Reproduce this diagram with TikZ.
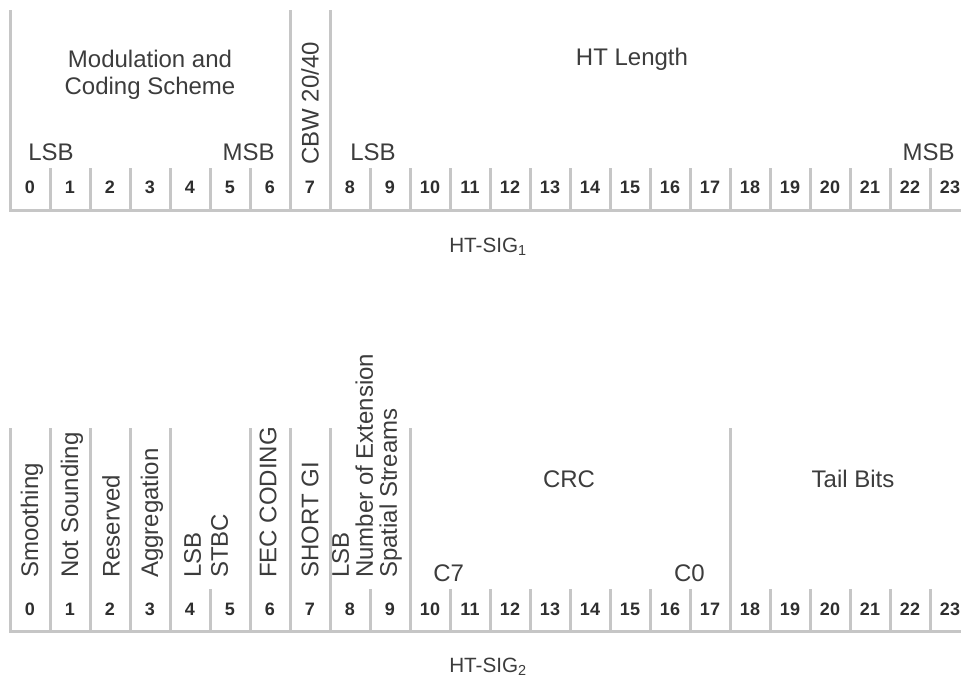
\documentclass[tikz,border=0pt]{standalone}
\usepackage{fontspec}
\setmainfont{Liberation Sans}
\usepackage{tikz}
\usetikzlibrary{positioning}

\definecolor{rahmen}{HTML}{C6C6C6}
\definecolor{schrift}{HTML}{3C3C3C}
\definecolor{ziffer}{HTML}{2E2E2E}

\begin{document}
\begin{tikzpicture}[x=0.75pt, y=-0.75pt,
    bitline/.style={rahmen, line width=2.25pt},
    bitnum/.style={ziffer, font=\fontsize{13.5}{16}\selectfont\bfseries, inner sep=0pt, anchor=base},
    fieldtxt/.style={schrift, font=\fontsize{18}{20.25}\selectfont, inner sep=0pt},
    vfield/.style={fieldtxt, rotate=90, anchor=west, align=left},
    sigtxt/.style={schrift, font=\fontsize{15.5}{17}\selectfont, inner sep=0pt, anchor=base west}]
        % 定義
        \def\W{40}     % 1ビットの幅
        \def\Ya{210}   % HT-SIG1 の下線
        \def\Yb{631}   % HT-SIG2 の下線
        \useasboundingbox (0,0) rectangle (961,682);

        % ===== HT-SIG1 =====
        % 枠線
        \draw[bitline] (10,\Ya-200) -- (10,\Ya) -- (961,\Ya);
        \foreach \x in {290,330} \draw[bitline] (\x,\Ya-200) -- (\x,\Ya);
        \foreach \k in {1,...,6,9,10,...,23} \draw[bitline] (10+\k*\W,\Ya-42) -- (10+\k*\W,\Ya);
        % ビット番号
        \foreach \i in {0,...,23}
            \node[bitnum] (a\i) at (30+\i*\W,\Ya-17) {\i};
        % フィールド名
        \node[fieldtxt, anchor=north, align=center] (mcs) at (150,49.5) {Modulation and\\Coding Scheme};
        \node[fieldtxt, anchor=base west] (mcslsb) at (28,160) {LSB};
        \node[fieldtxt, anchor=base east] (mcsmsb) at (275,160) {MSB};
        \node[vfield] (cbw) at (310,165) {CBW 20/40};
        \node[fieldtxt, anchor=base] (htlen) at (632,65) {HT Length};
        \node[fieldtxt, anchor=base west] (lenlsb) at (350,160) {LSB};
        \node[fieldtxt, anchor=base east] (lenmsb) at (955,160) {MSB};
        \node[sigtxt] (sigone) at (449,252) {HT-SIG\textsubscript{1}};

        % ===== HT-SIG2 =====
        % 枠線
        \draw[bitline] (10,\Yb-203) -- (10,\Yb) -- (961,\Yb);
        \foreach \x in {50,90,130,170,250,290,330,410,730} \draw[bitline] (\x,\Yb-203) -- (\x,\Yb);
        \foreach \k in {5,9,11,12,...,17,19,20,...,23} \draw[bitline] (10+\k*\W,\Yb-42) -- (10+\k*\W,\Yb);
        % ビット番号
        \foreach \i in {0,...,23}
            \node[bitnum] (b\i) at (30+\i*\W,\Yb-16) {\i};
        % フィールド名 (縦書き)
        \node[vfield] (smooth) at (32,578) {Smoothing};
        \node[vfield] (notsnd) at (72,578) {Not Sounding};
        \node[vfield] (resv)   at (111,578) {Reserved};
        \node[vfield] (aggr)   at (152,578) {Aggregation};
        \node[vfield] (stbc)   at (206,578) {LSB\\STBC};
        \node[vfield] (fec)    at (268,578) {FEC CODING};
        \node[vfield] (sgi)    at (310,578) {SHORT GI};
        \node[vfield, font=\fontsize{18}{18}\selectfont] (ness) at (367,578) {LSB\\Number of Extension\\Spatial Streams};
        % CRC と Tail Bits
        \node[fieldtxt, anchor=base] (crc) at (569,487) {CRC};
        \node[fieldtxt, anchor=base west] (crcc7) at (433,581) {C7};
        \node[fieldtxt, anchor=base east] (crcc0) at (705,581) {C0};
        \node[fieldtxt, anchor=base] (tail) at (853,487) {Tail Bits};
        \node[sigtxt] (sigtwo) at (449,672) {HT-SIG\textsubscript{2}};
    \end{tikzpicture}
\end{document}
